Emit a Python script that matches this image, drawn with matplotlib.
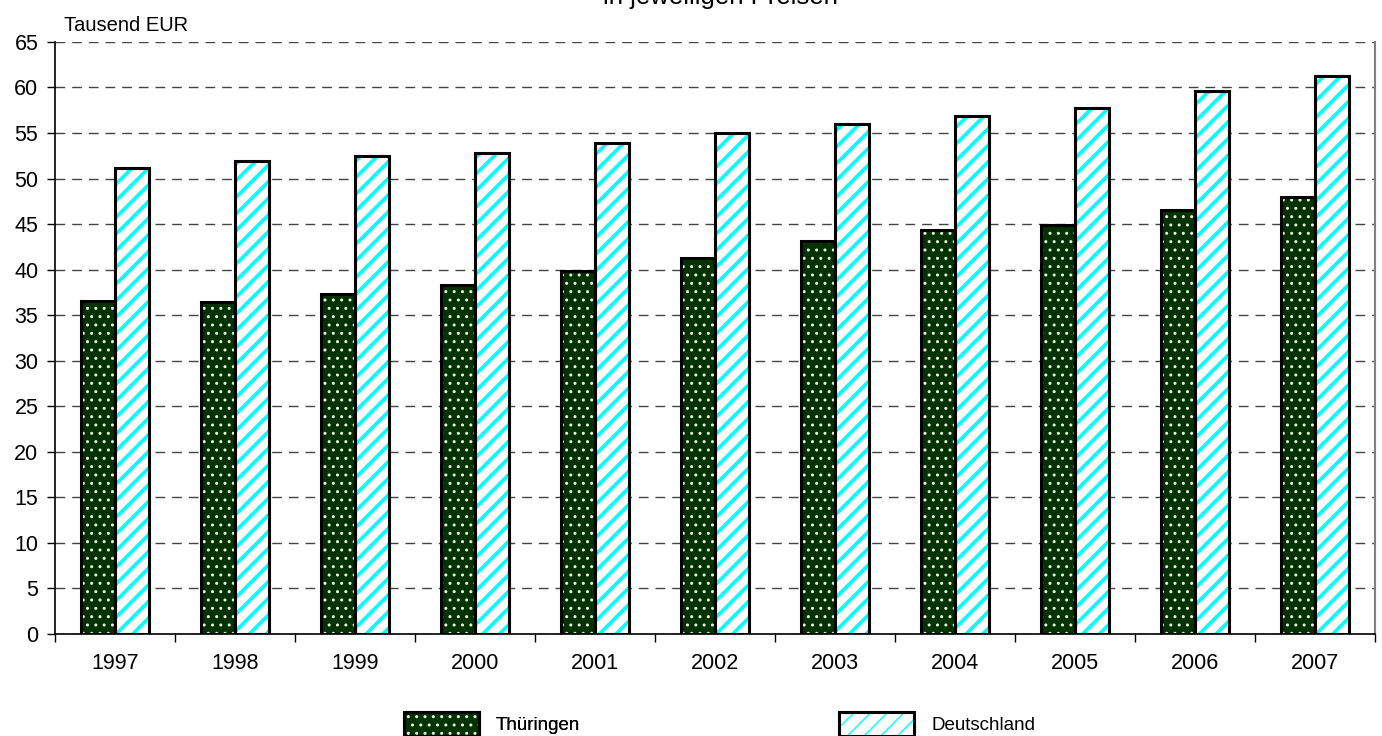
import numpy as np
import matplotlib.pyplot as plt
from matplotlib.legend_handler import HandlerTuple

plt.rcParams['font.family'] = ['Liberation Sans', 'DejaVu Sans']

# Data (Tausend EUR)
years = ['1997', '1998', '1999', '2000', '2001', '2002',
         '2003', '2004', '2005', '2006', '2007']
thueringen = [36.6, 36.5, 37.3, 38.3, 39.9, 41.3, 43.1, 44.3, 44.9, 46.6, 48.0]
deutschland = [51.2, 51.9, 52.5, 52.8, 53.9, 55.0, 56.0, 56.9, 57.8, 59.6, 61.3]

fig = plt.figure(figsize=(13.82, 7.36), dpi=100)
ax = fig.add_axes([0.0398, 0.1386, 0.955, 0.8044])

x = np.arange(len(years))
w = 0.285

# Thüringen: dark green with white dots
with plt.rc_context({'hatch.linewidth': 1.0}):
    th_fill = ax.bar(x - w / 2, thueringen, w, color='#003300',
                     edgecolor='#e8f0e0', hatch='..', linewidth=0, zorder=2)
# Deutschland: white with cyan stripes
with plt.rc_context({'hatch.linewidth': 2.6}):
    de_fill = ax.bar(x + w / 2, deutschland, w, color='white',
                     edgecolor='#00ffff', hatch='//', linewidth=0, zorder=2)
th_edge = ax.bar(x - w / 2, thueringen, w, fill=False, edgecolor='black',
                 linewidth=2.2, zorder=3)
de_edge = ax.bar(x + w / 2, deutschland, w, fill=False, edgecolor='black',
                 linewidth=2.2, zorder=3)

ax.set_xlim(-0.5, len(years) - 0.5)
ax.set_ylim(0, 65)
ax.set_yticks(np.arange(0, 66, 5))
ax.set_xticks(x)
ax.set_xticklabels(years)
ax.set_xticks(np.arange(-0.5, len(years), 1), minor=True)
ax.tick_params(axis='x', which='major', length=0, pad=14, labelsize=15.5)
ax.tick_params(axis='x', which='minor', length=6, width=1, direction='out')
ax.tick_params(axis='y', length=6, width=1, pad=6, labelsize=15.5)

ax.grid(axis='y', linestyle=(0, (7, 5)), color='#444444', linewidth=1, zorder=1)
ax.set_axisbelow(True)
ax.spines['top'].set_visible(False)
ax.spines['right'].set_color('#808080')
ax.spines['right'].set_linewidth(1.5)
ax.spines['left'].set_linewidth(1.2)
ax.spines['bottom'].set_linewidth(1.2)

fig.text(0.046, 0.966, 'Tausend EUR', fontsize=14.5, va='center', ha='left')
fig.text(0.521, 0.995, 'in jeweiligen Preisen', fontsize=18.5,
         ha='center', va='baseline')

# Legend, two entries placed apart as in the original
leg1 = fig.legend([(th_fill[0], th_edge[0])], ['Thüringen'],
                  handler_map={tuple: HandlerTuple(ndivide=1)},
                  loc='upper left', bbox_to_anchor=(0.287, 0.043),
                  bbox_transform=fig.transFigure, frameon=False,
                  fontsize=13.5, handlelength=4.0, handleheight=1.6,
                  handletextpad=0.9, borderaxespad=0)
fig.add_artist(leg1)
leg2 = fig.legend([(de_fill[0], de_edge[0])], ['Deutschland'],
                  handler_map={tuple: HandlerTuple(ndivide=1)},
                  loc='upper left', bbox_to_anchor=(0.602, 0.043),
                  bbox_transform=fig.transFigure, frameon=False,
                  fontsize=13.5, handlelength=4.0, handleheight=1.6,
                  handletextpad=0.9, borderaxespad=0)

fig.savefig('out.png', dpi=100)
